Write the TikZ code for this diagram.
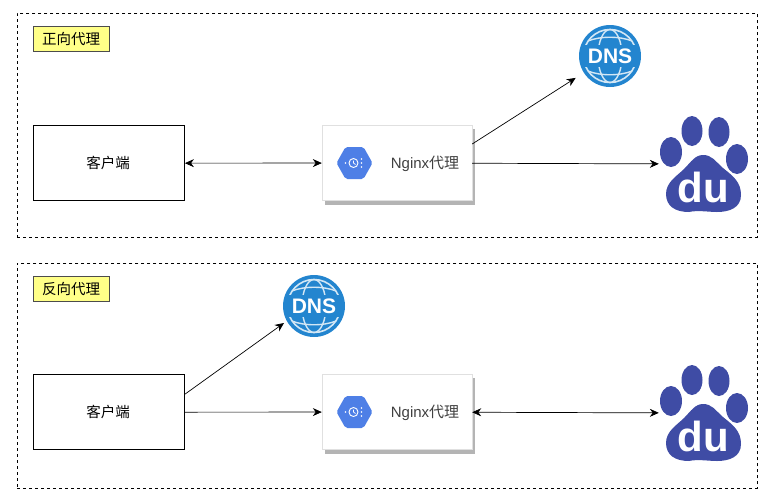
\documentclass[tikz,border=0pt]{standalone}
\usepackage{xcolor}
\usepackage{fontspec}
\setmainfont{Liberation Sans}
\newfontfamily\cjk{Noto Sans CJK SC}
\definecolor{dnsblue}{HTML}{2385CF}
\definecolor{dulue}{HTML}{3F4CA5}
\definecolor{hexblue}{HTML}{4E7FE6}
\definecolor{labelyel}{HTML}{FFFF88}
\definecolor{shadowgr}{HTML}{B4B4B4}
\usetikzlibrary{positioning,calc,arrows.meta}
\tikzset{
  dnsicon/.pic={
    \fill[dnsblue] (0,0) circle (31);
    \draw[white!80!dnsblue,line width=1.6pt] (0,0) circle (26.5);
    \draw[white!80!dnsblue,line width=1.4pt] (0,0) ellipse (12 and 26.5);
    \draw[white!80!dnsblue,line width=1.4pt] (-22,-15) .. controls (-10,-20) and (10,-20) .. (22,-15);
    \draw[white!80!dnsblue,line width=1.4pt] (-22,15) .. controls (-10,20) and (10,20) .. (22,15);
    \fill[dnsblue] (-28,-11) rectangle (28,11);
    \node[text=white,font=\bfseries\fontsize{21}{21}\selectfont,inner sep=0pt] (-txt) at (0,0) {DNS};
  },
  duicon/.pic={
    \fill[dulue] (-11,-33) ellipse (10.5 and 15);
    \fill[dulue] (16,-32) ellipse (10.5 and 15);
    \fill[dulue] (-32,-12) ellipse (11 and 15);
    \fill[dulue] (34,-5) ellipse (11 and 15);
    \fill[dulue] (0,-9) .. controls (9,-9) and (12,-3) .. (20,4) .. controls (30,12) and (38,18) .. (38,31)
      .. controls (38,44) and (26,48) .. (14,48) .. controls (6,48) and (-6,46) .. (-14,48)
      .. controls (-28,48) and (-37,42) .. (-37,30) .. controls (-37,18) and (-26,12) .. (-19,5)
      .. controls (-12,-2) and (-8,-9) .. (0,-9) -- cycle;
    \node[text=white,font=\bfseries\fontsize{42}{42}\selectfont,inner sep=0pt] (-txt) at (0,23) {du};
  },
  hexicon/.pic={
    \fill[hexblue,rounded corners=2pt] (-18,0) -- (-9,-16) -- (9,-16) -- (18,0) -- (9,16) -- (-9,16) -- cycle;
    \draw[white,line width=.9pt] (-1,0) circle (4.5);
    \draw[white,line width=.7pt] (-1,-2.5) -- (-1,0) -- (1,1.5);
    \foreach \yy in {-4,0,4} \fill[white] (7,\yy) circle (.9);
    \fill[white] (-9,0) circle (.9);
  },
  frame/.style={draw,dashed,line width=.7pt,minimum width=740,minimum height=224,anchor=north west,inner sep=0pt},
  tag/.style={draw=black!70,fill=labelyel,minimum width=76,minimum height=25,inner sep=0pt,font=\cjk\fontsize{14.5}{14.5}\selectfont},
  client/.style={draw,line width=.8pt,minimum width=151,minimum height=75,inner sep=0pt,font=\cjk\fontsize{14.5}{14.5}\selectfont},
  proxy/.style={fill=white,draw=black!12,minimum width=150,minimum height=75,inner sep=0pt},
  proxytext/.style={inner sep=0pt,text=black!75,font=\fontsize{15}{15}\selectfont},
  dnsnode/.style={circle,minimum size=81,inner sep=0pt},
  dunode/.style={minimum width=88,minimum height=96,inner sep=0pt},
  link/.style={line width=.7pt,-{Stealth[length=9pt,width=8pt]}},
  biglink/.style={line width=.7pt,{Stealth[length=9pt,width=8pt]}-{Stealth[length=9pt,width=8pt]}}
}
\begin{document}
\begin{tikzpicture}[x=1pt,y=-1pt]
  \useasboundingbox (0,0) rectangle (762,491);
  % upper panel
  \node[frame] (panela) at (17,13) {};
  \node[tag] (taga) at (71,38.5) {\cjk 正向代理};
  \node[client] (clienta) at (109,163.2) {\hspace*{-2pt}客户端};
  \fill[shadowgr] (325,129) rectangle (475,204.5);
  \node[proxy] (proxya) at (397,163) {};
  \pic at (354.5,163) {hexicon};
  \node[proxytext] (texta) at (425,164) {Nginx{\cjk 代理}};
  \node[dnsnode] (dnsa) at (610,56) {};
  \pic at (610,56) {dnsicon};
  \node[dunode] (dua) at (703,164) {};
  \pic at (703,164) {duicon};
  \draw[biglink] (clienta) -- (proxya);
  \draw[link] ([yshift=19pt]proxya.east) -- (dnsa);
  \draw[link] (proxya) -- (dua);
  % lower panel
  \node[frame,minimum height=225] (panelb) at (17,263) {};
  \node[tag] (tagb) at (71,288.5) {\cjk 反向代理};
  \node[client] (clientb) at (109,412.2) {\hspace*{-2pt}客户端};
  \fill[shadowgr] (325,378) rectangle (475,453.5);
  \node[proxy] (proxyb) at (397,412) {};
  \pic at (354.5,412) {hexicon};
  \node[proxytext] (textb) at (425,413) {Nginx{\cjk 代理}};
  \node[dnsnode] (dnsb) at (314,306) {};
  \coordinate (dnsbend) at (284,323);
  \pic at (314,306) {dnsicon};
  \node[dunode] (dub) at (703,413) {};
  \pic at (703,413) {duicon};
  \draw[link] ([yshift=18pt]clientb.east) -- (dnsbend);
  \draw[link] (clientb) -- (proxyb);
  \draw[biglink] (proxyb) -- (dub);
\end{tikzpicture}
\end{document}
